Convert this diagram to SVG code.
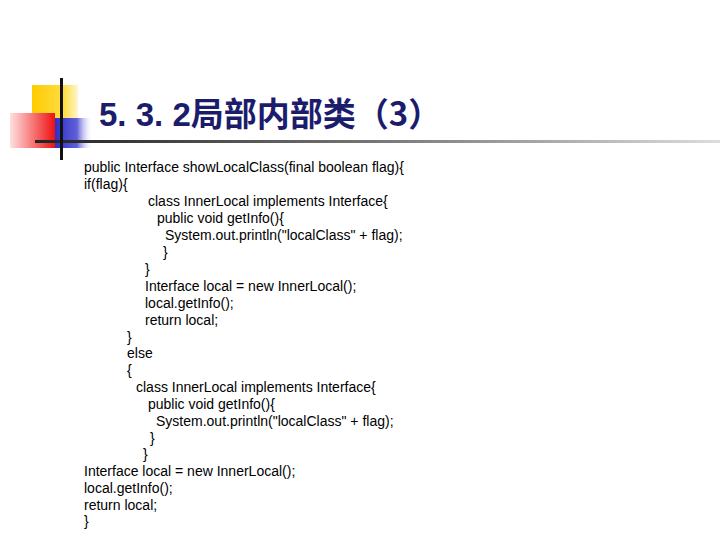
<svg xmlns="http://www.w3.org/2000/svg" width="720" height="540" viewBox="0 0 720 540">
<defs>
<linearGradient id="red" x1="0" y1="0" x2="1" y2="0"><stop offset="0" stop-color="#ffe0e0"/><stop offset="1" stop-color="#ee1111"/></linearGradient>
<linearGradient id="blue" x1="0" y1="0" x2="1" y2="0"><stop offset="0" stop-color="#2a2ac8"/><stop offset="0.6" stop-color="#6060d8"/><stop offset="1" stop-color="#ffffff" stop-opacity="0"/></linearGradient>
<linearGradient id="yel" x1="0" y1="0" x2="1" y2="0"><stop offset="0" stop-color="#ffcc00"/><stop offset="0.7" stop-color="#ffdd44"/><stop offset="1" stop-color="#fff6d0"/></linearGradient>
<linearGradient id="line" x1="0" y1="0" x2="1" y2="0"><stop offset="0" stop-color="#222"/><stop offset="0.5" stop-color="#777"/><stop offset="1" stop-color="#ddd"/></linearGradient>
</defs>
<style>
.c{font-family:"Liberation Sans",Arial,sans-serif;font-size:14px;fill:#000}
.t{font-family:"Liberation Sans","Noto Sans CJK SC",sans-serif;font-size:33px;font-weight:bold;fill:#1c1c6c}
</style>
<rect width="720" height="540" fill="#fff"/>
<g id="logo">
<rect x="32" y="85" width="46" height="36" fill="url(#yel)"/>
<rect x="53" y="118" width="40" height="30" fill="url(#blue)"/>
<rect x="10" y="113" width="45" height="35" fill="url(#red)"/>
<rect x="35" y="140" width="685" height="3" fill="url(#line)"/>
<rect x="60" y="78" width="3" height="82" fill="#111"/>
</g>
<text id="title" class="t" x="99" y="126">5. 3. 2<tspan font-family="Noto Sans CJK SC">局部内部类（3）</tspan></text>
<g id="code" class="c">
<text x="84" y="172">public Interface showLocalClass(final boolean flag){</text>
<text x="84" y="189">if(flag){</text>
<text x="148" y="206">class InnerLocal implements Interface{</text>
<text x="157" y="223">public void getInfo(){</text>
<text x="165" y="240">System.out.println("localClass" + flag);</text>
<text x="163" y="257">}</text>
<text x="145" y="274">}</text>
<text x="145" y="291">Interface local = new InnerLocal();</text>
<text x="145" y="308">local.getInfo();</text>
<text x="145" y="325">return local;</text>
<text x="127" y="342">}</text>
<text x="127" y="358">else</text>
<text x="127" y="375">{</text>
<text x="136" y="392">class InnerLocal implements Interface{</text>
<text x="148" y="409">public void getInfo(){</text>
<text x="156" y="426">System.out.println("localClass" + flag);</text>
<text x="150" y="443">}</text>
<text x="143" y="459">}</text>
<text x="84" y="476">Interface local = new InnerLocal();</text>
<text x="84" y="493">local.getInfo();</text>
<text x="84" y="510">return local;</text>
<text x="84" y="526">}</text>
</g>
</svg>
